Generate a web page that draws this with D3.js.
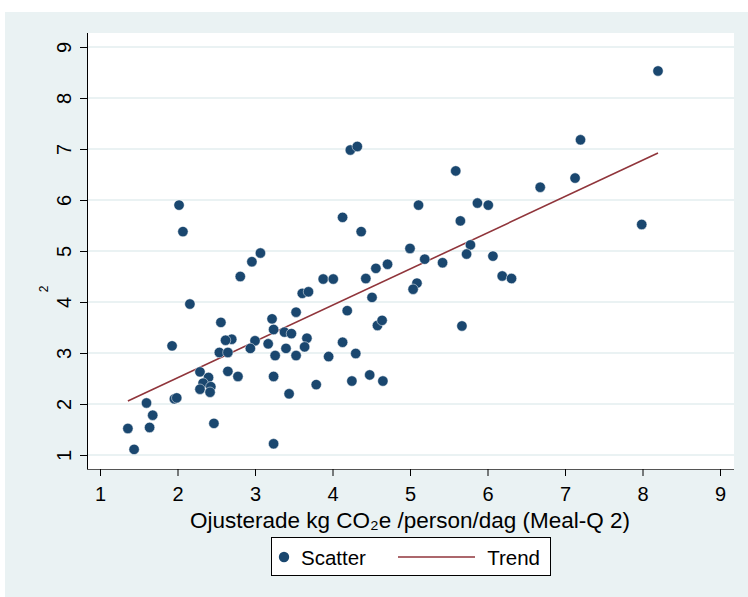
<!DOCTYPE html>
<html>
<head>
<meta charset="utf-8">
<script src="https://cdn.jsdelivr.net/npm/d3@7"></script>
<style>
  html, body { margin: 0; padding: 0; background: #ffffff; }
  svg { display: block; font-family: "Liberation Sans", Arial, sans-serif; }
</style>
</head>
<body>
<svg id="chart" width="748" height="597"></svg>
<script>
// Observations: emissions per person and day (x) against the second measure (y)
const xValues = [
  2.02, 2.07, 4.23, 4.32, 4.13, 4.37, 5.11, 5.00,
  8.20, 7.20, 5.59, 6.68, 7.13, 5.87, 6.01, 5.65, 7.99, 5.78,
  5.19, 5.42, 5.73, 6.07, 6.19, 6.31, 5.09, 5.04, 5.67,
  3.07, 2.96, 2.81, 2.16, 3.88, 4.01, 4.43, 4.56, 4.71,
  3.61, 3.69, 4.51, 3.53, 4.19, 3.22, 2.56, 3.24, 3.38, 3.47,
  4.58, 4.64, 3.67, 3.17, 3.00, 2.94, 2.70, 2.62, 1.93, 2.54,
  2.65, 3.40, 3.64, 3.26, 3.53, 3.95, 4.13, 4.30, 2.29, 2.40,
  2.65, 2.78, 3.24, 2.33, 2.43, 2.29, 2.42, 3.44, 3.79, 4.25,
  4.48, 4.65, 1.96, 1.99, 1.60, 1.68, 1.64, 1.36, 1.44, 2.47, 3.24
];
const yValues = [
  5.90, 5.38, 6.98, 7.05, 5.66, 5.38, 5.90, 5.05,
  8.53, 7.18, 6.57, 6.25, 6.43, 5.94, 5.90, 5.59, 5.52, 5.12,
  4.84, 4.77, 4.94, 4.90, 4.51, 4.46, 4.37, 4.25, 3.53,
  4.96, 4.79, 4.50, 3.96, 4.45, 4.45, 4.46, 4.66, 4.74,
  4.17, 4.20, 4.09, 3.80, 3.83, 3.67, 3.60, 3.46, 3.41, 3.38,
  3.54, 3.64, 3.29, 3.18, 3.24, 3.09, 3.27, 3.25, 3.14, 3.01,
  3.01, 3.09, 3.12, 2.95, 2.95, 2.93, 3.21, 2.99, 2.63, 2.52,
  2.64, 2.54, 2.54, 2.41, 2.34, 2.29, 2.23, 2.20, 2.38, 2.45,
  2.57, 2.45, 2.10, 2.12, 2.02, 1.78, 1.54, 1.52, 1.11, 1.62, 1.22
];

// Fitted trend, drawn between its two end points
const trendX = [1.36, 8.20];
const trendY = [2.06, 6.92];

const xTicks = [1, 2, 3, 4, 5, 6, 7, 8, 9];
const yTicks = [1, 2, 3, 4, 5, 6, 7, 8, 9];

const xTitle = "Ojusterade kg CO₂e /person/dag (Meal-Q 2)";
const yTitle = "2";
const legendLabels = ["Scatter", "Trend"];

const colors = {
  outer: "#eaf2f3",
  plot: "#ffffff",
  grid: "#eaf2f3",
  dot: "#1a476f",
  trend: "#90353b",
  axis: "#000000",
  text: "#000000"
};

const svg = d3.select("#chart");

// Outer region (graph background)
svg.append("rect")
  .attr("x", 5).attr("y", 12)
  .attr("width", 743).attr("height", 585)
  .attr("fill", colors.outer);

const plot = { left: 87, right: 734, top: 33, bottom: 469 };

svg.append("rect")
  .attr("x", plot.left).attr("y", plot.top)
  .attr("width", plot.right - plot.left)
  .attr("height", plot.bottom - plot.top)
  .attr("fill", colors.plot);

const x = d3.scaleLinear().domain([1, 9]).range([100, 720]);
const y = d3.scaleLinear().domain([1, 9]).range([455, 47]);

// Horizontal grid lines
svg.append("g")
  .selectAll("line")
  .data(yTicks)
  .join("line")
  .attr("x1", plot.left + 1).attr("x2", plot.right)
  .attr("y1", d => y(d)).attr("y2", d => y(d))
  .attr("stroke", colors.grid)
  .attr("stroke-width", 2);

// Y axis
const yAxis = svg.append("g")
  .attr("transform", `translate(${plot.left},0)`)
  .call(d3.axisLeft(y).tickValues(yTicks).tickSize(7).tickPadding(6).tickFormat(d3.format("d")));
yAxis.select(".domain")
  .attr("d", `M0.5,${plot.top}V${plot.bottom}`)
  .attr("stroke", colors.axis);
yAxis.selectAll(".tick line").attr("stroke", colors.axis).attr("x1", 0.5).attr("x2", -7);
yAxis.selectAll(".tick text")
  .attr("font-size", 20)
  .attr("fill", colors.text)
  .attr("font-family", "Liberation Sans, Arial, sans-serif")
  .attr("text-anchor", "middle")
  .attr("dy", null)
  .attr("x", 0)
  .attr("transform", "translate(-23,0) rotate(-90)")
  .attr("dominant-baseline", "central");

// X axis
const xAxis = svg.append("g")
  .attr("transform", `translate(0,${plot.bottom})`)
  .call(d3.axisBottom(x).tickValues(xTicks).tickSize(7).tickPadding(11).tickFormat(d3.format("d")));
xAxis.select(".domain")
  .attr("d", `M${plot.left},0.5H${plot.right}`)
  .attr("stroke", "#555555");
xAxis.selectAll(".tick line").attr("stroke", colors.axis);
xAxis.selectAll(".tick text")
  .attr("font-size", 20)
  .attr("fill", colors.text)
  .attr("font-family", "Liberation Sans, Arial, sans-serif");

// Axis titles
svg.append("text")
  .attr("x", 410).attr("y", 528)
  .attr("text-anchor", "middle")
  .attr("font-size", 22.5)
  .attr("fill", colors.text)
  .text(xTitle);

svg.append("text")
  .attr("transform", "translate(48,289) rotate(-90)")
  .attr("text-anchor", "middle")
  .attr("font-size", 12)
  .attr("fill", colors.text)
  .text(yTitle);

// Trend line
svg.append("line")
  .attr("x1", x(trendX[0])).attr("y1", y(trendY[0]))
  .attr("x2", x(trendX[1])).attr("y2", y(trendY[1]))
  .attr("stroke", colors.trend)
  .attr("stroke-width", 1.6);

// Scatter points
svg.append("g")
  .selectAll("circle")
  .data(xValues.map((v, i) => [v, yValues[i]]))
  .join("circle")
  .attr("cx", d => x(d[0]))
  .attr("cy", d => y(d[1]))
  .attr("r", 5.2)
  .attr("fill", colors.dot)
  .attr("stroke", "#ffffff")
  .attr("stroke-width", 0.5);

// Legend
const legend = svg.append("g");
legend.append("rect")
  .attr("x", 271.5).attr("y", 537.5)
  .attr("width", 279).attr("height", 38)
  .attr("fill", "#ffffff")
  .attr("stroke", "#000000")
  .attr("stroke-width", 1);
legend.append("circle")
  .attr("cx", 284).attr("cy", 557).attr("r", 5.2)
  .attr("fill", colors.dot);
legend.append("text")
  .attr("x", 301).attr("y", 564.5)
  .attr("font-size", 20.5)
  .attr("fill", colors.text)
  .text(legendLabels[0]);
legend.append("line")
  .attr("x1", 398).attr("x2", 475)
  .attr("y1", 557).attr("y2", 557)
  .attr("stroke", colors.trend)
  .attr("stroke-width", 1.6);
legend.append("text")
  .attr("x", 540).attr("y", 564.5)
  .attr("text-anchor", "end")
  .attr("font-size", 20.5)
  .attr("fill", colors.text)
  .text(legendLabels[1]);
</script>
</body>
</html>
